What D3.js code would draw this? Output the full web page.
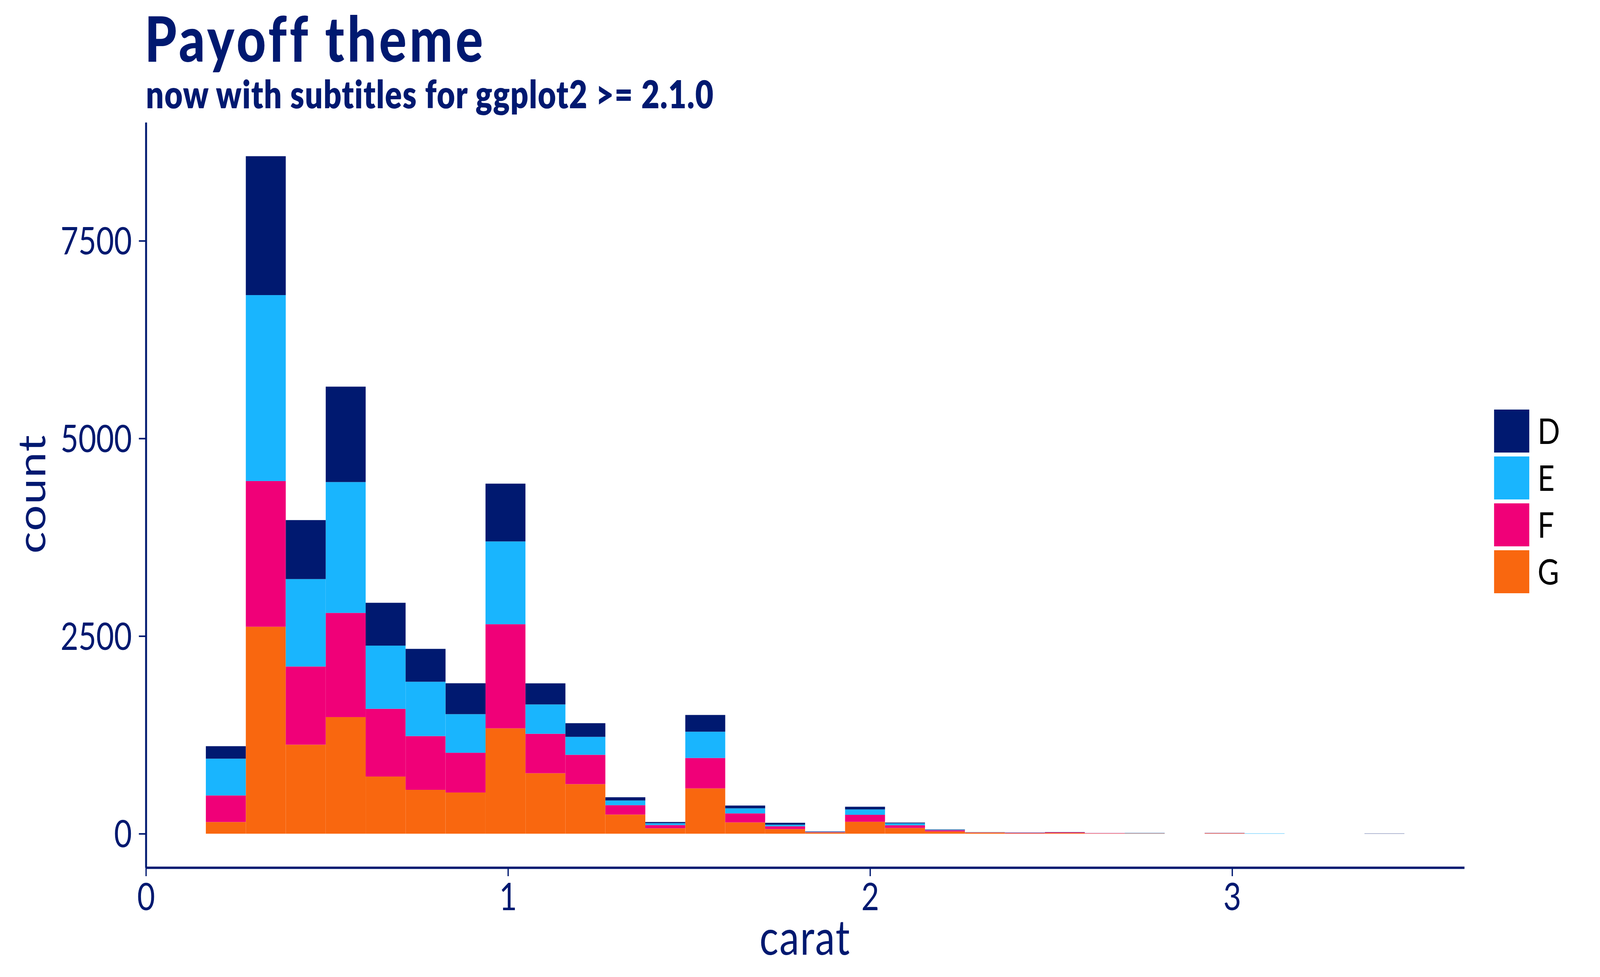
<!DOCTYPE html>
<html>
<head>
<meta charset="utf-8">
<script src="https://cdn.jsdelivr.net/npm/d3@7"></script>
<style>
  html, body { margin: 0; padding: 0; background: #fff; overflow: hidden; }
  svg { display: block; }
  text { font-family: "Lato", "Open Sans", sans-serif; }
</style>
</head>
<body>
<script>
// bin left edges (carat), each bin is binWidth wide
var binLefts = [0.1655, 0.2759, 0.3862, 0.4966, 0.6069, 0.7172, 0.8276, 0.9379, 1.0483, 1.1586,
                1.2690, 1.3793, 1.4897, 1.6000, 1.7103, 1.8207, 1.9310, 2.0414, 2.1517, 2.2621,
                2.3724, 2.4828, 2.5931, 2.7034, 2.8138, 2.9241, 3.0345, 3.1448, 3.2552, 3.3655];
var binWidth = 0.1103;

// counts per colour
var countD = [158, 1757, 746, 1207, 542, 416, 391, 731, 267, 173, 41, 15, 212, 35, 24, 5, 34, 9, 5, 1, 2, 3, 0, 2, 0, 2, 0, 0, 0, 3];
var countE = [465, 2352, 1106, 1655, 799, 687, 488, 1047, 371, 227, 59, 24, 332, 64, 20, 4, 68, 25, 5, 2, 2, 0, 1, 3, 0, 0, 4, 0, 0, 0];
var countF = [336, 1843, 989, 1318, 857, 680, 503, 1317, 499, 371, 119, 40, 385, 114, 35, 5, 88, 34, 15, 3, 5, 7, 4, 1, 0, 3, 0, 0, 0, 0];
var countG = [148, 2618, 1126, 1475, 723, 555, 521, 1333, 765, 627, 242, 69, 573, 143, 59, 15, 151, 73, 29, 14, 6, 10, 4, 4, 0, 5, 0, 0, 0, 0];

var colours = ["D", "E", "F", "G"];
var colourFill = {D: "#001970", E: "#19b5fe", F: "#f00078", G: "#f9670f"};
var yTicks = [0, 2500, 5000, 7500];
var xTicks = [0, 1, 2, 3];

var navy = "#001970";
var width = 5000, height = 2500;

// the drawing is laid out on a 5000x2500 canvas and stretched to the window
var svg = d3.select("body").append("svg")
    .attr("width", window.innerWidth || width)
    .attr("height", window.innerHeight || height)
    .attr("viewBox", "0 0 " + width + " " + height)
    .attr("preserveAspectRatio", "none");

// build rows for the stack
var rows = binLefts.map(function(x0, i) {
    return {x0: x0, D: countD[i], E: countE[i], F: countF[i], G: countG[i]};
});

// G at the bottom, D on top
var stack = d3.stack().keys(["G", "F", "E", "D"]);
var layers = stack(rows);

var maxTotal = d3.max(rows, function(r) { return r.D + r.E + r.F + r.G; });
var xMin = binLefts[0], xMax = binLefts[binLefts.length - 1] + binWidth;
var xPad = (xMax - xMin) * 0.05;

var x = d3.scaleLinear()
    .domain([xMin - xPad, xMax + xPad])
    .range([456, 4576]);

var y = d3.scaleLinear()
    .domain([-0.05 * maxTotal, 1.05 * maxTotal])
    .range([2220, 313]);

// bars
svg.append("g").selectAll("g")
    .data(layers)
    .enter().append("g")
    .attr("fill", function(d) { return colourFill[d.key]; })
    .selectAll("rect")
    .data(function(d) { return d; })
    .enter().append("rect")
    .attr("x", function(d) { return x(d.data.x0); })
    .attr("width", function(d) { return x(d.data.x0 + binWidth) - x(d.data.x0); })
    .attr("y", function(d) { return y(d[1]); })
    .attr("height", function(d) { return Math.max(0, y(d[0]) - y(d[1])); });

// y axis
var yAxis = svg.append("g")
    .attr("transform", "translate(456,0)")
    .call(d3.axisLeft(y).tickValues(yTicks).tickFormat(d3.format("d"))
        .tickSize(22).tickSizeOuter(0).tickPadding(22));
yAxis.select(".domain").attr("stroke", navy).attr("stroke-width", 6);
yAxis.selectAll(".tick line").attr("stroke", navy).attr("stroke-width", 4);
yAxis.selectAll(".tick text")
    .attr("fill", navy)
    .style("font-size", "96px")
    .attr("dy", "0.36em");

// x axis
var xAxis = svg.append("g")
    .attr("transform", "translate(0,2220)")
    .call(d3.axisBottom(x).tickValues(xTicks).tickFormat(d3.format("d"))
        .tickSize(22).tickSizeOuter(0).tickPadding(18));
xAxis.select(".domain").attr("stroke", navy).attr("stroke-width", 6);
xAxis.selectAll(".tick line").attr("stroke", navy).attr("stroke-width", 4);
xAxis.selectAll(".tick text")
    .attr("fill", navy)
    .style("font-size", "96px")
    .attr("dy", "0.72em");

// axis titles
svg.append("text")
    .attr("x", 2516)
    .attr("y", 2443)
    .attr("text-anchor", "middle")
    .attr("fill", navy)
    .style("font-size", "124px")
    .style("letter-spacing", "3px")
    .text("carat");

svg.append("text")
    .attr("transform", "translate(142,1264) rotate(-90)")
    .attr("text-anchor", "middle")
    .attr("fill", navy)
    .style("font-size", "118px")
    .style("letter-spacing", "2px")
    .text("count");

// title + subtitle
svg.append("text")
    .attr("x", 452)
    .attr("y", 158)
    .attr("fill", navy)
    .style("font-size", "160px")
    .style("font-weight", 900)
    .style("letter-spacing", "9px")
    .text("Payoff theme");

svg.append("text")
    .attr("x", 456)
    .attr("y", 277)
    .attr("fill", navy)
    .style("font-size", "98px")
    .style("font-weight", 800)
    .style("letter-spacing", "2px")
    .text("now with subtitles for ggplot2 >= 2.1.0");

// legend
var legend = svg.append("g").selectAll("g")
    .data(colours)
    .enter().append("g")
    .attr("transform", function(d, i) { return "translate(4669," + (1048 + i * 120) + ")"; });

legend.append("rect")
    .attr("width", 110)
    .attr("height", 110)
    .attr("fill", function(d) { return colourFill[d]; });

legend.append("text")
    .attr("x", 136)
    .attr("y", 55)
    .attr("dy", "0.36em")
    .attr("fill", "#000")
    .style("font-size", "92px")
    .text(function(d) { return d; });
</script>
</body>
</html>
